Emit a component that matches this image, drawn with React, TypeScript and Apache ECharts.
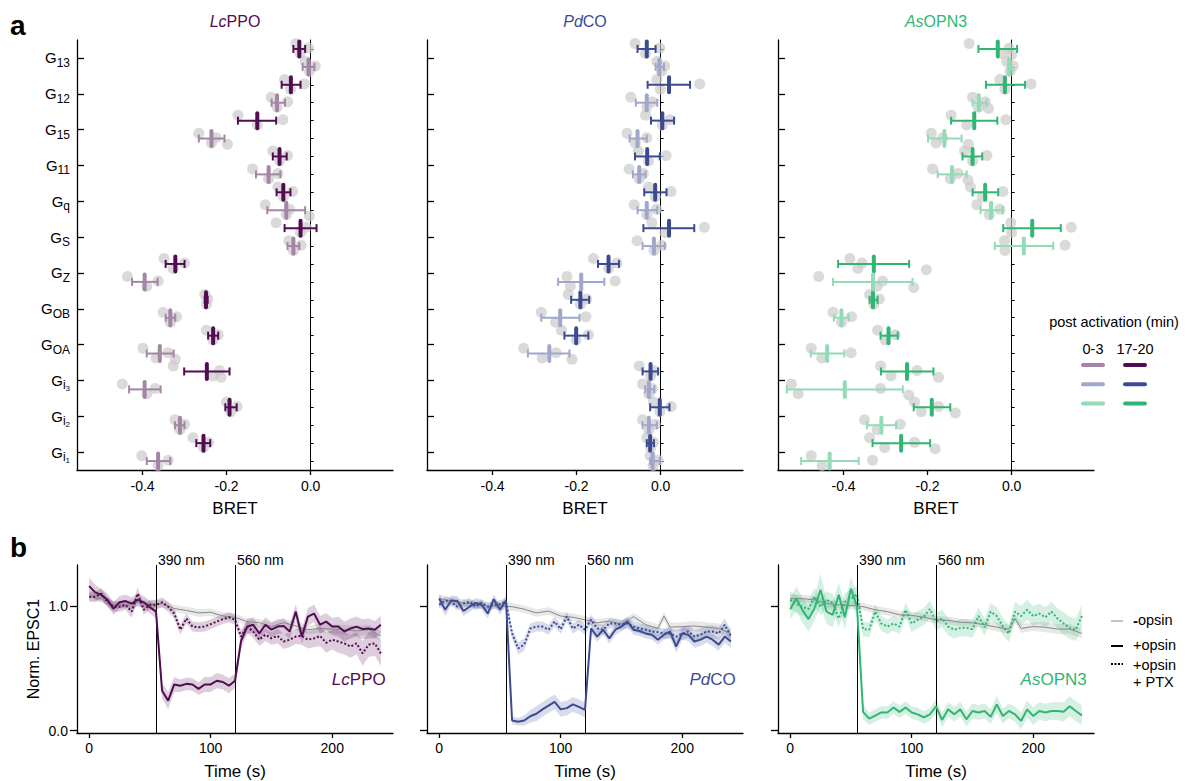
import React, { useEffect, useRef } from 'react';
import * as echarts from 'echarts';

const FONT = 'Liberation Sans, Arial, Helvetica, sans-serif';

// ---------- Panel a : BRET ----------
const ROW_SUB = ['13', '12', '15', '11', 'q', 'S', 'Z', 'OB', 'OA', 'i', 'i', 'i'];
const ROW_SUB2 = ['', '', '', '', '', '', '', '', '', '3', '2', '1'];
const BRET_TICKS = [-0.4, -0.2, 0];
const JITTER = [-0.3, 0.25, -0.05, 0.32];

const LC_LATE_MEAN = [-0.027, -0.047, -0.127, -0.074, -0.065, -0.024, -0.322, -0.249, -0.232, -0.247, -0.193, -0.255];
const LC_LATE_LO = [-0.041, -0.069, -0.173, -0.09, -0.081, -0.062, -0.345, -0.252, -0.244, -0.301, -0.203, -0.272];
const LC_LATE_HI = [-0.013, -0.024, -0.082, -0.057, -0.048, 0.014, -0.3, -0.245, -0.22, -0.193, -0.176, -0.239];
const LC_LATE_DOTS = [[-0.035, -0.025, -0.005], [-0.062, -0.048, -0.015], [-0.173, -0.127, -0.066], [-0.09, -0.074, -0.055], [-0.078, -0.065, -0.043], [-0.082, -0.024, -0.011], [-0.349, -0.327, -0.3], [-0.252, -0.248, -0.245], [-0.248, -0.232, -0.22], [-0.327, -0.232, -0.217, -0.213], [-0.2, -0.19, -0.175], [-0.28, -0.255, -0.243]];
const LC_EARLY_MEAN = [-0.005, -0.08, -0.236, -0.1, -0.058, -0.041, -0.395, -0.334, -0.359, -0.395, -0.311, -0.363];
const LC_EARLY_LO = [-0.019, -0.093, -0.266, -0.13, -0.103, -0.055, -0.425, -0.345, -0.39, -0.432, -0.323, -0.39];
const LC_EARLY_HI = [0.009, -0.061, -0.205, -0.072, -0.013, -0.027, -0.364, -0.322, -0.326, -0.357, -0.3, -0.334];
const LC_EARLY_DOTS = [[-0.013, -0.003, 0.011], [-0.094, -0.08, -0.055], [-0.266, -0.236, -0.225, -0.198], [-0.138, -0.1, -0.078], [-0.108, -0.058, -0.05, -0.003], [-0.052, -0.041, -0.023], [-0.436, -0.39, -0.363], [-0.351, -0.334, -0.319], [-0.399, -0.368, -0.34, -0.322], [-0.448, -0.39, -0.37], [-0.323, -0.311, -0.3], [-0.402, -0.363, -0.339]];

const PD_LATE_MEAN = [-0.033, 0.02, 0.004, -0.032, -0.013, 0.02, -0.124, -0.191, -0.201, -0.024, -0.002, -0.025];
const PD_LATE_LO = [-0.055, -0.031, -0.023, -0.061, -0.039, -0.041, -0.149, -0.213, -0.229, -0.043, -0.025, -0.033];
const PD_LATE_HI = [-0.012, 0.07, 0.032, -0.002, 0.014, 0.08, -0.099, -0.17, -0.172, -0.006, 0.021, -0.016];
const PD_LATE_DOTS = [[-0.061, -0.036, -0.002], [-0.009, -0.001, 0.093], [-0.036, 0.004, 0.022], [-0.053, -0.029, 0.013], [-0.029, -0.013, 0.025], [-0.021, 0.01, 0.104], [-0.16, -0.124, -0.104], [-0.22, -0.191, -0.176], [-0.236, -0.201, -0.172], [-0.051, -0.024, -0.017], [-0.017, -0.002, 0.025], [-0.033, -0.024, -0.017]];
const PD_EARLY_MEAN = [-0.003, -0.033, -0.055, -0.051, -0.033, -0.016, -0.189, -0.239, -0.265, -0.028, -0.028, -0.019];
const PD_EARLY_LO = [-0.012, -0.059, -0.074, -0.066, -0.055, -0.043, -0.244, -0.284, -0.316, -0.037, -0.043, -0.025];
const PD_EARLY_HI = [0.008, -0.008, -0.033, -0.036, -0.008, 0.01, -0.134, -0.193, -0.217, -0.015, -0.009, -0.002];
const PD_EARLY_DOTS = [[-0.009, 0.002, 0.01], [-0.071, -0.033, -0.02], [-0.08, -0.06, -0.033], [-0.075, -0.051, -0.041], [-0.063, -0.033, -0.01], [-0.056, -0.016, 0.002], [-0.223, -0.215, -0.108], [-0.284, -0.25, -0.178], [-0.326, -0.282, -0.249, -0.211], [-0.043, -0.028, -0.02], [-0.043, -0.028, -0.013], [-0.025, -0.018, -0.006]];

const AS_LATE_MEAN = [-0.033, -0.016, -0.089, -0.093, -0.063, 0.049, -0.328, -0.33, -0.293, -0.249, -0.19, -0.263];
const AS_LATE_LO = [-0.079, -0.061, -0.144, -0.117, -0.093, -0.02, -0.413, -0.338, -0.312, -0.311, -0.233, -0.331];
const AS_LATE_HI = [0.013, 0.032, -0.034, -0.07, -0.032, 0.117, -0.244, -0.319, -0.271, -0.186, -0.146, -0.194];
const AS_LATE_DOTS = [[-0.101, -0.024, -0.006, 0.0], [-0.028, -0.016, 0.046], [-0.144, -0.107, -0.014], [-0.112, -0.093, -0.059], [-0.098, -0.07, -0.021], [-0.002, 0.0, 0.142], [-0.385, -0.366, -0.356, -0.203], [-0.338, -0.328, -0.315], [-0.319, -0.301, -0.277], [-0.312, -0.287, -0.225, -0.174], [-0.231, -0.215, -0.174, -0.134], [-0.338, -0.302, -0.231, -0.182]];
const AS_EARLY_MEAN = [-0.006, -0.078, -0.16, -0.142, -0.049, 0.029, -0.33, -0.405, -0.439, -0.397, -0.31, -0.433];
const AS_EARLY_LO = [-0.009, -0.093, -0.199, -0.176, -0.074, -0.04, -0.425, -0.423, -0.478, -0.535, -0.344, -0.501];
const AS_EARLY_HI = [0.0, -0.059, -0.119, -0.107, -0.021, 0.099, -0.236, -0.388, -0.398, -0.259, -0.275, -0.364];
const AS_EARLY_DOTS = [[-0.012, -0.004, 0.004], [-0.093, -0.079, -0.063, -0.055], [-0.191, -0.18, -0.164, -0.103], [-0.188, -0.146, -0.128, -0.104], [-0.083, -0.053, -0.028], [-0.017, -0.016, 0.127], [-0.459, -0.32, -0.307, -0.233], [-0.425, -0.405, -0.381], [-0.477, -0.452, -0.382], [-0.524, -0.508, -0.312, -0.245], [-0.35, -0.32, -0.265], [-0.477, -0.451, -0.331]];

// ---------- Panel b : EPSC ----------
const TIMES = Array.from({ length: 49 }, (_, i) => i * 5);
const GRAY_T = [0, 10, 20, 30, 40, 50, 60, 70, 80, 90, 100, 110, 120, 130, 140, 150, 160, 170, 180, 185, 190, 200, 210, 220, 230, 240];
const TIME_TICKS = [0, 100, 200];
const EPSC_TICKS = [0, 1];
const LIGHT_ON = [55, 120];
const LIGHT_LABELS = ['390 nm', '560 nm'];

const LC_SOLID = [1.16, 1.11, 1.09, 1.05, 0.98, 1.03, 1.04, 1.02, 1.05, 1.03, 0.99, 0.955, 0.32, 0.24, 0.37, 0.36, 0.375, 0.37, 0.335, 0.37, 0.37, 0.4, 0.39, 0.36, 0.4, 0.72, 0.835, 0.85, 0.78, 0.85, 0.81, 0.835, 0.84, 0.795, 0.955, 0.755, 0.915, 0.94, 0.85, 0.875, 0.835, 0.835, 0.795, 0.82, 0.835, 0.815, 0.82, 0.81, 0.85];
const LC_SOLID_SEM = [0.07, 0.06, 0.05, 0.05, 0.05, 0.05, 0.05, 0.05, 0.05, 0.05, 0.05, 0.05, 0.06, 0.07, 0.06, 0.05, 0.05, 0.05, 0.05, 0.06, 0.06, 0.06, 0.06, 0.06, 0.06, 0.06, 0.06, 0.06, 0.06, 0.06, 0.06, 0.06, 0.06, 0.06, 0.06, 0.06, 0.07, 0.07, 0.07, 0.07, 0.07, 0.08, 0.08, 0.08, 0.08, 0.08, 0.08, 0.07, 0.07];
const LC_DOT = [1.075, 1.075, 1.1, 1.035, 0.995, 0.995, 1.01, 0.955, 1.1, 0.97, 1.01, 1.01, 1.03, 0.995, 0.94, 0.81, 0.9, 0.835, 0.83, 0.835, 0.855, 0.875, 0.895, 0.91, 0.89, 0.755, 0.835, 0.795, 0.73, 0.77, 0.74, 0.76, 0.715, 0.73, 0.755, 0.76, 0.73, 0.74, 0.76, 0.705, 0.73, 0.715, 0.7, 0.675, 0.7, 0.62, 0.69, 0.7, 0.62];
const LC_DOT_SEM = [0.04, 0.04, 0.04, 0.04, 0.04, 0.04, 0.04, 0.05, 0.05, 0.04, 0.04, 0.04, 0.04, 0.04, 0.04, 0.04, 0.04, 0.04, 0.04, 0.04, 0.04, 0.04, 0.04, 0.04, 0.04, 0.05, 0.05, 0.05, 0.05, 0.05, 0.05, 0.06, 0.06, 0.06, 0.06, 0.07, 0.07, 0.07, 0.08, 0.08, 0.08, 0.09, 0.09, 0.09, 0.09, 0.1, 0.1, 0.1, 0.1];
const LC_GRAY = [1.075, 1.06, 1.01, 1.01, 1.03, 1.01, 1.02, 0.98, 0.965, 0.945, 0.95, 0.92, 0.91, 0.875, 0.867, 0.835, 0.867, 0.84, 0.81, 0.815, 0.82, 0.815, 0.81, 0.8, 0.81, 0.76];

const PD_SOLID = [1.06, 0.97, 1.045, 1.04, 0.96, 0.995, 1.025, 1.01, 0.94, 1.055, 0.97, 1.045, 0.08, 0.07, 0.08, 0.115, 0.135, 0.17, 0.2, 0.23, 0.17, 0.18, 0.21, 0.19, 0.165, 0.82, 0.755, 0.81, 0.74, 0.81, 0.835, 0.875, 0.81, 0.8, 0.78, 0.77, 0.73, 0.77, 0.795, 0.675, 0.78, 0.77, 0.715, 0.73, 0.755, 0.73, 0.69, 0.755, 0.715];
const PD_SOLID_SEM = [0.04, 0.05, 0.04, 0.04, 0.04, 0.04, 0.04, 0.04, 0.04, 0.04, 0.04, 0.04, 0.03, 0.03, 0.04, 0.05, 0.06, 0.06, 0.06, 0.06, 0.06, 0.06, 0.06, 0.06, 0.06, 0.04, 0.04, 0.04, 0.04, 0.04, 0.04, 0.04, 0.04, 0.04, 0.04, 0.04, 0.04, 0.04, 0.05, 0.05, 0.05, 0.05, 0.05, 0.05, 0.05, 0.05, 0.05, 0.05, 0.05];
const PD_DOT = [1.01, 1.045, 1.035, 0.995, 1.02, 1.035, 0.995, 1.025, 0.995, 1.01, 1.015, 1.035, 0.78, 0.66, 0.69, 0.82, 0.835, 0.835, 0.81, 0.875, 0.815, 0.915, 0.82, 0.85, 0.81, 0.89, 0.82, 0.81, 0.86, 0.86, 0.85, 0.86, 0.835, 0.82, 0.81, 0.795, 0.79, 0.78, 0.78, 0.755, 0.78, 0.795, 0.755, 0.77, 0.795, 0.795, 0.78, 0.85, 0.76];
const PD_DOT_SEM = [0.03, 0.03, 0.03, 0.03, 0.03, 0.03, 0.03, 0.03, 0.03, 0.03, 0.03, 0.03, 0.04, 0.05, 0.05, 0.04, 0.04, 0.04, 0.04, 0.04, 0.04, 0.04, 0.04, 0.04, 0.04, 0.04, 0.04, 0.04, 0.04, 0.04, 0.04, 0.04, 0.04, 0.04, 0.04, 0.04, 0.04, 0.04, 0.04, 0.05, 0.05, 0.05, 0.05, 0.05, 0.05, 0.05, 0.05, 0.05, 0.05];
const PD_GRAY = [1.06, 1.04, 1.025, 1.015, 1.0, 1.0, 0.995, 0.975, 0.945, 0.96, 0.92, 0.91, 0.89, 0.865, 0.88, 0.855, 0.915, 0.85, 0.82, 0.92, 0.83, 0.835, 0.84, 0.83, 0.82, 0.78];

const AS_SOLID = [0.975, 1.06, 0.97, 0.895, 0.98, 1.13, 0.955, 0.93, 1.09, 0.91, 1.14, 0.995, 0.15, 0.095, 0.12, 0.145, 0.145, 0.185, 0.15, 0.185, 0.145, 0.13, 0.105, 0.13, 0.195, 0.085, 0.17, 0.13, 0.17, 0.09, 0.157, 0.145, 0.157, 0.11, 0.21, 0.117, 0.157, 0.13, 0.077, 0.17, 0.117, 0.157, 0.145, 0.157, 0.157, 0.15, 0.195, 0.157, 0.122];
const AS_SOLID_SEM = [0.08, 0.1, 0.1, 0.1, 0.1, 0.13, 0.1, 0.1, 0.1, 0.1, 0.1, 0.08, 0.06, 0.05, 0.05, 0.05, 0.05, 0.05, 0.05, 0.05, 0.05, 0.05, 0.05, 0.05, 0.06, 0.06, 0.06, 0.06, 0.06, 0.06, 0.06, 0.06, 0.06, 0.06, 0.07, 0.06, 0.06, 0.06, 0.07, 0.07, 0.07, 0.07, 0.07, 0.07, 0.07, 0.08, 0.08, 0.08, 0.08];
const AS_DOT = [1.05, 1.015, 0.995, 0.975, 1.075, 0.995, 1.05, 1.025, 0.9, 1.035, 1.06, 1.095, 0.815, 0.81, 0.955, 0.86, 0.835, 0.86, 0.835, 0.97, 0.86, 0.89, 0.915, 0.975, 0.875, 0.9, 0.835, 0.81, 0.825, 0.825, 0.815, 0.92, 0.83, 0.955, 0.92, 0.835, 0.78, 0.955, 0.92, 0.97, 0.92, 0.94, 0.91, 0.955, 0.9, 0.86, 0.825, 0.81, 0.92];
const AS_DOT_SEM = [0.07, 0.07, 0.07, 0.07, 0.07, 0.07, 0.07, 0.07, 0.07, 0.07, 0.07, 0.07, 0.06, 0.06, 0.06, 0.06, 0.06, 0.06, 0.06, 0.06, 0.07, 0.07, 0.07, 0.07, 0.07, 0.07, 0.07, 0.07, 0.07, 0.07, 0.07, 0.07, 0.07, 0.07, 0.07, 0.07, 0.07, 0.08, 0.08, 0.08, 0.08, 0.08, 0.08, 0.08, 0.08, 0.09, 0.09, 0.09, 0.09];
const AS_GRAY = [1.06, 1.06, 1.05, 1.02, 1.01, 1.005, 0.995, 0.97, 0.955, 0.93, 0.925, 0.91, 0.89, 0.885, 0.87, 0.865, 0.85, 0.83, 0.815, 0.9, 0.82, 0.835, 0.83, 0.815, 0.815, 0.78];
const GRAY_SEM = [0.03, 0.03, 0.03, 0.03, 0.03, 0.03, 0.03, 0.03, 0.03, 0.03, 0.03, 0.03, 0.03, 0.03, 0.03, 0.03, 0.03, 0.035, 0.035, 0.035, 0.035, 0.035, 0.04, 0.04, 0.04, 0.04];

// ---------- opsins ----------
const OPSINS = [
  {
    it: 'Lc', rest: 'PPO', dark: '#520c52', light: '#a585a6',
    late: [LC_LATE_MEAN, LC_LATE_LO, LC_LATE_HI], lateDots: LC_LATE_DOTS,
    early: [LC_EARLY_MEAN, LC_EARLY_LO, LC_EARLY_HI], earlyDots: LC_EARLY_DOTS,
    solid: LC_SOLID, solidSem: LC_SOLID_SEM, dot: LC_DOT, dotSem: LC_DOT_SEM, gray: LC_GRAY,
  },
  {
    it: 'Pd', rest: 'CO', dark: '#3c4b91', light: '#a0a7cb',
    late: [PD_LATE_MEAN, PD_LATE_LO, PD_LATE_HI], lateDots: PD_LATE_DOTS,
    early: [PD_EARLY_MEAN, PD_EARLY_LO, PD_EARLY_HI], earlyDots: PD_EARLY_DOTS,
    solid: PD_SOLID, solidSem: PD_SOLID_SEM, dot: PD_DOT, dotSem: PD_DOT_SEM, gray: PD_GRAY,
  },
  {
    it: 'As', rest: 'OPN3', dark: '#2fb673', light: '#92dbb6',
    late: [AS_LATE_MEAN, AS_LATE_LO, AS_LATE_HI], lateDots: AS_LATE_DOTS,
    early: [AS_EARLY_MEAN, AS_EARLY_LO, AS_EARLY_HI], earlyDots: AS_EARLY_DOTS,
    solid: AS_SOLID, solidSem: AS_SOLID_SEM, dot: AS_DOT, dotSem: AS_DOT_SEM, gray: AS_GRAY,
  },
];

const GRID_LEFTS = [77, 427, 778];
const GRID_W = 316;

const LABEL_POS = ROW_SUB.map((_, k) => 2 * k + 0.5);
const ROW_POS = Array.from({ length: ROW_SUB.length * 2 }, (_, i) => i);

function rowLabel(v: number) {
  const k = Math.round((v - 0.5) / 2);
  const s2 = ROW_SUB2[k];
  return `{g|G}{s|${ROW_SUB[k]}}` + (s2 ? `{ss|${s2}}` : '');
}

function errorBarSeries(gi: number, stats: number[][], offset: number, color: string) {
  const [mean, lo, hi] = stats;
  return {
    type: 'custom',
    xAxisIndex: gi,
    yAxisIndex: gi,
    z: 5,
    encode: { x: [1, 2, 3], y: 0 },
    data: mean.map((m, k) => [2 * k + offset, m, lo[k], hi[k]]),
    renderItem: (params: any, api: any) => {
      const y = api.value(0);
      const pm = api.coord([api.value(1), y]);
      const pl = api.coord([api.value(2), y]);
      const ph = api.coord([api.value(3), y]);
      const st = { stroke: color, lineWidth: 2 };
      return {
        type: 'group',
        children: [
          { type: 'line', shape: { x1: pl[0], y1: pl[1], x2: ph[0], y2: ph[1] }, style: st },
          { type: 'line', shape: { x1: pl[0], y1: pl[1] - 4, x2: pl[0], y2: pl[1] + 4 }, style: st },
          { type: 'line', shape: { x1: ph[0], y1: ph[1] - 4, x2: ph[0], y2: ph[1] + 4 }, style: st },
          { type: 'line', shape: { x1: pm[0], y1: pm[1] - 7.5, x2: pm[0], y2: pm[1] + 7.5 }, style: { stroke: color, lineWidth: 4, lineCap: 'round' } },
        ],
      };
    },
  };
}

function dotSeries(gi: number, dots: number[][], offset: number) {
  const data: number[][] = [];
  dots.forEach((arr, k) => arr.forEach((v, j) => data.push([v, 2 * k + offset + JITTER[j]])));
  return {
    type: 'scatter', xAxisIndex: gi, yAxisIndex: gi, z: 2, symbolSize: 11,
    itemStyle: { color: '#cbcbcb', opacity: 0.7 }, data, silent: true,
  };
}

function bandSeries(gi: number, times: number[], vals: number[], sem: number[], color: string, op: number) {
  return {
    type: 'custom', xAxisIndex: gi, yAxisIndex: gi, z: 1, clip: true, silent: true,
    data: [[0, 1]],
    renderItem: (params: any, api: any) => {
      const up = times.map((t, i) => api.coord([t, vals[i] + sem[i]]));
      const dn = times.map((t, i) => api.coord([t, vals[i] - sem[i]])).reverse();
      return { type: 'polygon', shape: { points: up.concat(dn) }, style: { fill: color, opacity: op } };
    },
  };
}

function buildOption() {
  const grid: any[] = [];
  const xAxis: any[] = [];
  const yAxis: any[] = [];
  const series: any[] = [];
  const axisLine = { onZero: false, lineStyle: { color: '#000', width: 1.3 } };
  const tickStyle = { color: '#000', width: 1.3 };

  // panel a grids 0..2
  GRID_LEFTS.forEach((left, i) => {
    grid.push({ left, top: 40, width: GRID_W, height: 430 });
    xAxis.push({
      gridIndex: i, type: 'value', min: -0.556, max: 0.196,
      axisLine, splitLine: { show: false },
      axisTick: { customValues: BRET_TICKS, length: 5, lineStyle: tickStyle },
      axisLabel: { customValues: BRET_TICKS, formatter: (v: number) => v.toFixed(1), fontSize: 14, color: '#000', margin: 9, fontFamily: FONT },
      name: 'BRET', nameLocation: 'middle', nameGap: 30,
      nameTextStyle: { fontSize: 17, color: '#000', fontFamily: FONT },
    });
  });
  GRID_LEFTS.forEach((left, i) => {
    yAxis.push({
      gridIndex: i, type: 'value', min: -0.5, max: 23.5, inverse: true,
      axisLine, splitLine: { show: false },
      axisTick: { customValues: LABEL_POS, inside: true, length: 7, lineStyle: tickStyle },
      axisLabel: {
        show: i === 0, customValues: LABEL_POS, formatter: rowLabel, margin: 7,
        rich: {
          g: { fontSize: 15, color: '#000', fontFamily: FONT },
          s: { fontSize: 12, color: '#000', fontFamily: FONT, padding: [10, 0, 0, 0] },
          ss: { fontSize: 8, color: '#000', fontFamily: FONT, padding: [16, 0, 0, 0] },
        },
      },
    });
  });
  GRID_LEFTS.forEach((left, i) => {
    yAxis.push({
      gridIndex: i, type: 'value', min: -0.5, max: 23.5, inverse: true, position: 'right',
      axisLine: { onZero: true, lineStyle: { color: '#000', width: 1 } },
      splitLine: { show: false },
      axisTick: { customValues: ROW_POS, inside: false, length: 3, lineStyle: { color: '#000', width: 1 } },
      axisLabel: { show: false },
    });
  });

  // panel b grids 3..5
  GRID_LEFTS.forEach((left, i) => {
    grid.push({ left, top: 565, width: GRID_W, height: 169 });
    xAxis.push({
      gridIndex: 3 + i, type: 'value', min: -10, max: 250,
      axisLine, splitLine: { show: false },
      axisTick: { customValues: TIME_TICKS, length: 5, lineStyle: tickStyle },
      axisLabel: { customValues: TIME_TICKS, fontSize: 14, color: '#000', margin: 8, fontFamily: FONT },
      name: 'Time (s)', nameLocation: 'middle', nameGap: 30,
      nameTextStyle: { fontSize: 17, color: '#000', fontFamily: FONT },
    });
    yAxis.push({
      gridIndex: 3 + i, type: 'value', min: -0.02, max: 1.33,
      axisLine, splitLine: { show: false },
      axisTick: { customValues: EPSC_TICKS, length: 7, lineStyle: tickStyle },
      axisLabel: { show: i === 0, customValues: EPSC_TICKS, formatter: (v: number) => v.toFixed(1), fontSize: 14, color: '#000', margin: 9, fontFamily: FONT },
      name: i === 0 ? 'Norm. EPSC1' : '', nameLocation: 'middle', nameGap: 36,
      nameTextStyle: { fontSize: 16, color: '#000', fontFamily: FONT },
    });
  });

  OPSINS.forEach((o, i) => {
    // panel a
    series.push(dotSeries(i, o.lateDots, 0));
    series.push(dotSeries(i, o.earlyDots, 1));
    series.push(errorBarSeries(i, o.late, 0, o.dark));
    series.push(errorBarSeries(i, o.early, 1, o.light));

    // panel b
    const gx = 3 + i;
    const gy = 6 + i;
    const bs = (times: number[], vals: number[], sem: number[], color: string, op: number) => {
      const s: any = bandSeries(gx, times, vals, sem, color, op);
      s.yAxisIndex = gy;
      return s;
    };
    series.push(bs(GRAY_T, o.gray, GRAY_SEM, '#bdbdbd', 0.35));
    series.push(bs(TIMES, o.dot, o.dotSem, o.dark, 0.2));
    series.push(bs(TIMES, o.solid, o.solidSem, o.dark, 0.2));
    series.push({
      type: 'line', xAxisIndex: gx, yAxisIndex: gy, z: 3, symbol: 'none', silent: true,
      data: GRAY_T.map((t, k) => [t, o.gray[k]]),
      lineStyle: { color: '#888888', width: 1 },
    });
    series.push({
      type: 'line', xAxisIndex: gx, yAxisIndex: gy, z: 4, symbol: 'none', silent: true,
      data: TIMES.map((t, k) => [t, o.dot[k]]),
      lineStyle: { color: o.dark, width: 2, type: [2, 2] },
    });
    series.push({
      type: 'line', xAxisIndex: gx, yAxisIndex: gy, z: 5, symbol: 'none', silent: true,
      data: TIMES.map((t, k) => [t, o.solid[k]]),
      lineStyle: { color: o.dark, width: 2 },
      markLine: {
        silent: true, symbol: ['none', 'none'], label: { show: false },
        lineStyle: { color: '#000', width: 1, type: 'solid' },
        data: LIGHT_ON.map((t) => ({ xAxis: t })),
      },
    });
  });

  return {
    animation: false,
    backgroundColor: '#ffffff',
    textStyle: { fontFamily: FONT },
    grid, xAxis, yAxis, series,
  };
}

function buildGraphics(chart: any) {
  const g: any[] = [];
  const txt = (x: number, y: number, text: string, extra: any = {}) => ({
    type: 'text', x, y, silent: true,
    style: { text, fontFamily: FONT, fontSize: 14, fill: '#000', align: 'left', verticalAlign: 'middle', ...extra },
  });
  g.push(txt(10, 25, 'a', { fontSize: 28, fontWeight: 'bold' }));
  g.push(txt(10, 547, 'b', { fontSize: 28, fontWeight: 'bold' }));

  OPSINS.forEach((o, i) => {
    const rich = {
      it: { fontStyle: 'italic', fontSize: 16, fill: o.dark, fontFamily: FONT },
      n: { fontSize: 16, fill: o.dark, fontFamily: FONT },
    };
    g.push(txt(GRID_LEFTS[i] + GRID_W / 2, 21, `{it|${o.it}}{n|${o.rest}}`, { align: 'center', rich }));
    // panel b: light labels
    LIGHT_ON.forEach((t, j) => {
      const p = chart.convertToPixel({ gridIndex: 3 + i }, [t, 1.33]);
      g.push(txt(p[0] + 2, p[1] - 5, LIGHT_LABELS[j], { fontSize: 14 }));
    });
    const q = chart.convertToPixel({ gridIndex: 3 + i }, [244, 0.41]);
    const rich2 = {
      it: { fontStyle: 'italic', fontSize: 17, fill: o.dark, fontFamily: FONT },
      n: { fontSize: 17, fill: o.dark, fontFamily: FONT },
    };
    g.push(txt(q[0], q[1], `{it|${o.it}}{n|${o.rest}}`, { align: 'right', rich: rich2 }));
  });

  // legend a
  g.push(txt(1114, 322, 'post activation (min)', { align: 'center', fontSize: 14.5 }));
  g.push(txt(1093, 349, '0-3', { align: 'center', fontSize: 14.5 }));
  g.push(txt(1135, 349, '17-20', { align: 'center', fontSize: 14.5 }));
  OPSINS.forEach((o, i) => {
    const y = 365 + i * 19.3;
    g.push({ type: 'line', silent: true, shape: { x1: 1083, y1: y, x2: 1103, y2: y }, style: { stroke: o.light, lineWidth: 4, lineCap: 'round' } });
    g.push({ type: 'line', silent: true, shape: { x1: 1125, y1: y, x2: 1145, y2: y }, style: { stroke: o.dark, lineWidth: 4, lineCap: 'round' } });
  });

  // legend b
  const legRich = { b: { fontWeight: 'bold', fontSize: 15, fontFamily: FONT, fill: '#000' }, n: { fontSize: 14.5, fontFamily: FONT, fill: '#000' } };
  g.push({ type: 'line', silent: true, shape: { x1: 1111, y1: 621, x2: 1123, y2: 621 }, style: { stroke: '#888', lineWidth: 1 } });
  g.push(txt(1133, 620, '{b|-}{n|opsin}', { rich: legRich }));
  g.push({ type: 'line', silent: true, shape: { x1: 1111, y1: 646, x2: 1123, y2: 646 }, style: { stroke: '#000', lineWidth: 2 } });
  g.push(txt(1133, 645, '+opsin', { fontSize: 14.5 }));
  g.push({ type: 'line', silent: true, shape: { x1: 1111, y1: 664, x2: 1123, y2: 664 }, style: { stroke: '#000', lineWidth: 2, lineDash: [2, 1.5] } });
  g.push(txt(1133, 665, '+opsin', { fontSize: 14.5 }));
  g.push(txt(1133, 682, '+ PTX', { fontSize: 14.5 }));
  return g;
}

export default function App() {
  const ref = useRef<HTMLDivElement>(null);
  useEffect(() => {
    document.body.style.margin = '0';
    const chart = echarts.init(ref.current as HTMLDivElement, null, { renderer: 'svg' });
    chart.setOption(buildOption() as any);
    chart.setOption({ graphic: buildGraphics(chart) } as any);
    return () => chart.dispose();
  }, []);
  return <div ref={ref} style={{ width: 1185, height: 781 }} />;
}
